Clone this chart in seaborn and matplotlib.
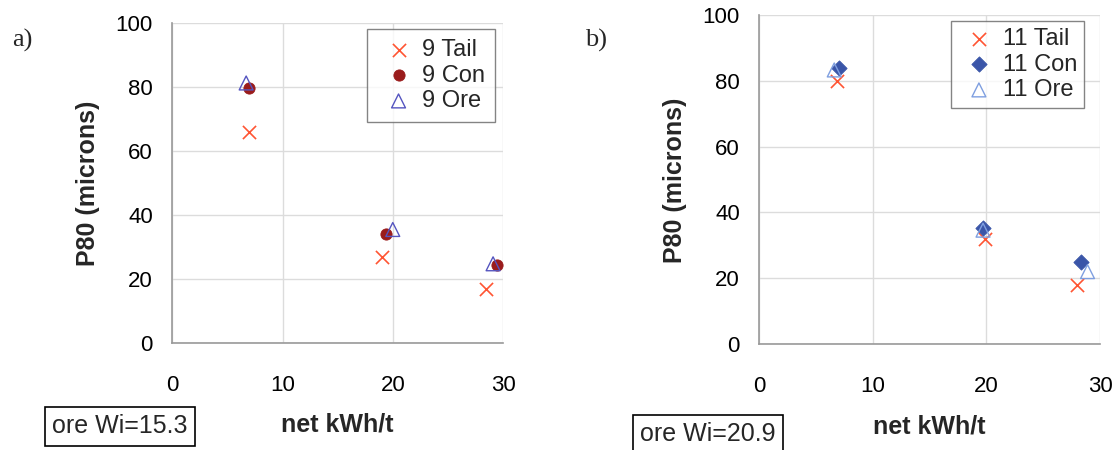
import matplotlib
matplotlib.use("Agg")
import matplotlib.pyplot as plt
import seaborn as sns
import pandas as pd

sns.set_style("white")
plt.rcParams['font.family'] = ['Liberation Sans', 'DejaVu Sans']

# Panel a (sample 9)
a_tail_x = [7.0, 19.0, 28.5]
a_tail_y = [65.8, 27.0, 17.0]
a_con_x = [7.0, 19.4, 29.5]
a_con_y = [79.7, 34.0, 24.4]
a_ore_x = [6.7, 20.0, 29.1]
a_ore_y = [81.2, 35.5, 24.8]

# Panel b (sample 11)
b_tail_x = [6.8, 19.9, 28.0]
b_tail_y = [79.8, 31.8, 17.8]
b_con_x = [7.0, 19.7, 28.3]
b_con_y = [83.8, 35.3, 24.8]
b_ore_x = [6.6, 19.7, 28.9]
b_ore_y = [83.3, 34.6, 22.0]

xticks = [0, 10, 20, 30]
yticks = [0, 20, 40, 60, 80, 100]

W, H = 1117, 450
fig = plt.figure(figsize=(W / 100, H / 100), dpi=100)

def px_axes(l, r, t, b):
    return fig.add_axes([l / W, 1 - b / H, (r - l) / W, (b - t) / H])

axA = px_axes(172.3, 503, 22.7, 343.3)
axB = px_axes(759.3, 1100, 15, 344)

def style(ax):
    ax.set_xlim(0, 30)
    ax.set_ylim(0, 100)
    ax.set_xticks(xticks)
    ax.set_yticks(yticks)
    ax.grid(True, color='#dcdcdc', lw=1)
    for s in ['top', 'right']:
        ax.spines[s].set_visible(False)
    for s in ['left', 'bottom']:
        ax.spines[s].set_color('#999999')
        ax.spines[s].set_linewidth(1.2)
    ax.tick_params(axis='both', direction='out', length=6, color='#999999',
                   labelsize=16, labelcolor='black', pad=8)
    ax.tick_params(axis='x', pad=17)
    ax.set_xlabel('')
    ax.set_ylabel('')
    ax.set_axisbelow(True)

def draw(ax, tx, ty, cx, cy, ox, oy, label, con_marker, con_size, con_color,
         ore_color, leg_anchor, borderpad):
    df_t = pd.DataFrame({'x': tx, 'y': ty})
    df_c = pd.DataFrame({'x': cx, 'y': cy})
    df_o = pd.DataFrame({'x': ox, 'y': oy})
    sns.scatterplot(data=df_t, x='x', y='y', ax=ax, marker='x', s=90,
                    color='#ff5533', linewidth=1.2, label=f'{label} Tail')
    sns.scatterplot(data=df_c, x='x', y='y', ax=ax, marker=con_marker, s=con_size,
                    color=con_color, edgecolor=con_color, label=f'{label} Con')
    sns.scatterplot(data=df_o, x='x', y='y', ax=ax, marker='^', s=100,
                    facecolor='none', edgecolor=ore_color, linewidth=1.0,
                    label=f'{label} Ore')
    style(ax)
    leg = ax.legend(loc='upper right', bbox_to_anchor=leg_anchor, fontsize=17,
                    frameon=True, fancybox=False, edgecolor='#666666',
                    handletextpad=0.1, borderpad=borderpad, labelspacing=0.15,
                    handlelength=1.8, borderaxespad=0)
    leg.get_frame().set_linewidth(1.0)
    ax.set_xlabel('net kWh/t', fontsize=18, fontweight='bold')
    ax.xaxis.set_label_coords(0.5, -(424 - 343.3) / 320.6)
    ax.xaxis.label.set_va('center')

draw(axA, a_tail_x, a_tail_y, a_con_x, a_con_y, a_ore_x, a_ore_y, '9',
     'o', 65, '#9a1c1c', '#5555c0', (0.976, 0.980), 0.42)
draw(axB, b_tail_x, b_tail_y, b_con_x, b_con_y, b_ore_x, b_ore_y, '11',
     'D', 60, '#3a55a8', '#7f9fe0', (0.953, 0.982), 0.3)

for xc, yc in [(88, 183), (675, 180)]:
    fig.text(xc / W, 1 - yc / H, 'P80 (microns)', fontsize=18, fontweight='bold',
             rotation=90, ha='center', va='center')

fig.text(12 / W, 1 - 40 / H, 'a)', fontsize=19, family='Liberation Serif',
         ha='left', va='center')
fig.text(585 / W, 1 - 40 / H, 'b)', fontsize=19, family='Liberation Serif',
         ha='left', va='center')

box = dict(boxstyle='square,pad=0.3', facecolor='white', edgecolor='black', lw=1.2)
fig.text(120 / W, 1 - 426 / H, 'ore Wi=15.3', fontsize=18, ha='center', va='center', bbox=box)
fig.text(708 / W, 1 - 434 / H, 'ore Wi=20.9', fontsize=18, ha='center', va='center', bbox=box)

fig.savefig('out.png', dpi=100)
